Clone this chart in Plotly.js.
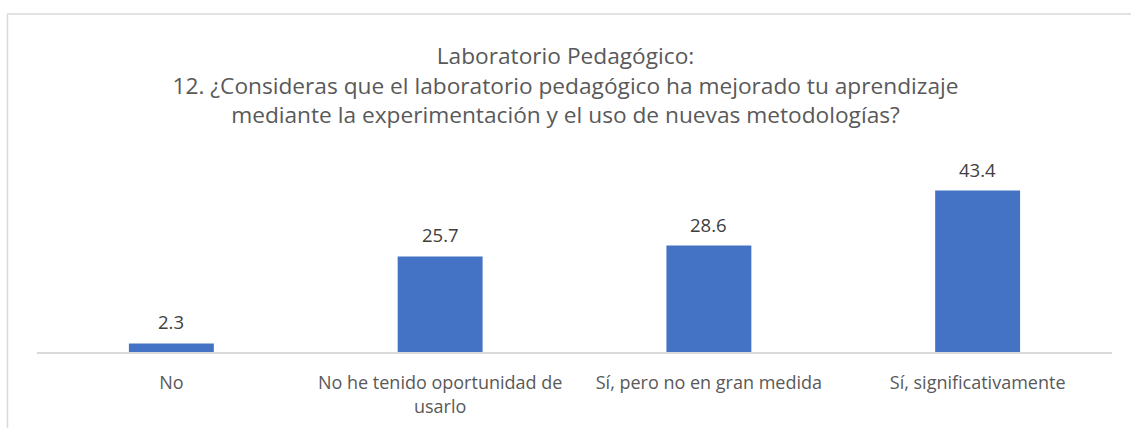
<!DOCTYPE html>
<html>
<head>
<meta charset="utf-8">
<script src="https://cdn.plot.ly/plotly-3.0.1.min.js"></script>
<style>html,body{margin:0;padding:0;background:#fff;}#chart{width:1131px;height:428px;}</style>
</head>
<body>
<div id="chart"></div>
<script>
const categories = ["No", "No he tenido oportunidad de<br>usarlo", "Sí, pero no en gran medida", "Sí, significativamente"];
const values = [2.3, 25.7, 28.6, 43.4];
const valueLabels = ["2.3", "25.7", "28.6", "43.4"];
const titleLines = [
  "Laboratorio Pedagógico:",
  "12. ¿Consideras que el laboratorio pedagógico ha mejorado tu aprendizaje",
  "mediante la experimentación y el uso de nuevas metodologías?"
];

const W = 1131, H = 428;
const M = {l: 37, r: 19, t: 166, b: 76};
const pw = W - M.l - M.r, ph = H - M.t - M.b;
const px = x => (x - M.l) / pw;
const py = y => (H - M.b - y) / ph;

const font = "'Open Sans', 'Noto Sans', sans-serif";

const annotations = values.map((v, i) => ({
  x: categories[i], y: v, xref: 'x', yref: 'y',
  text: valueLabels[i], showarrow: false,
  yanchor: 'bottom', yshift: 7,
  font: {family: font, size: 18.5, color: '#404040'}
}));

const data = [{
  type: 'bar',
  x: categories,
  y: values,
  marker: {color: '#4472c4', line: {width: 0}},
  hoverinfo: 'x+y'
}];

const layout = {
  width: W, height: H,
  margin: M,
  paper_bgcolor: '#ffffff',
  plot_bgcolor: '#ffffff',
  showlegend: false,
  bargap: 0.684,
  title: {
    text: titleLines.join('<br>'),
    font: {family: font, size: 22.7, color: '#595959'},
    x: 0.5, xanchor: 'center',
    y: 1 - 64/H, yanchor: 'top', yref: 'container'
  },
  xaxis: {
    type: 'category',
    showline: true, linecolor: '#d9d9d9', linewidth: 1.5,
    showgrid: false, zeroline: false,
    ticks: '', ticklabelstandoff: 14,
    tickfont: {family: font, size: 18, color: '#595959'}
  },
  yaxis: {
    range: [0, 50],
    visible: false,
    showgrid: false, zeroline: false
  },
  annotations: annotations,
  shapes: [
    {type: 'line', xref: 'paper', yref: 'paper', x0: px(7.5), x1: px(1131), y0: py(14), y1: py(14), line: {color: '#d9d9d9', width: 1.5}},
    {type: 'line', xref: 'paper', yref: 'paper', x0: px(7.5), x1: px(7.5), y0: py(14), y1: py(428), line: {color: '#d9d9d9', width: 1.5}}
  ]
};

Plotly.newPlot('chart', data, layout, {displayModeBar: false, staticPlot: true});
</script>
</body>
</html>
